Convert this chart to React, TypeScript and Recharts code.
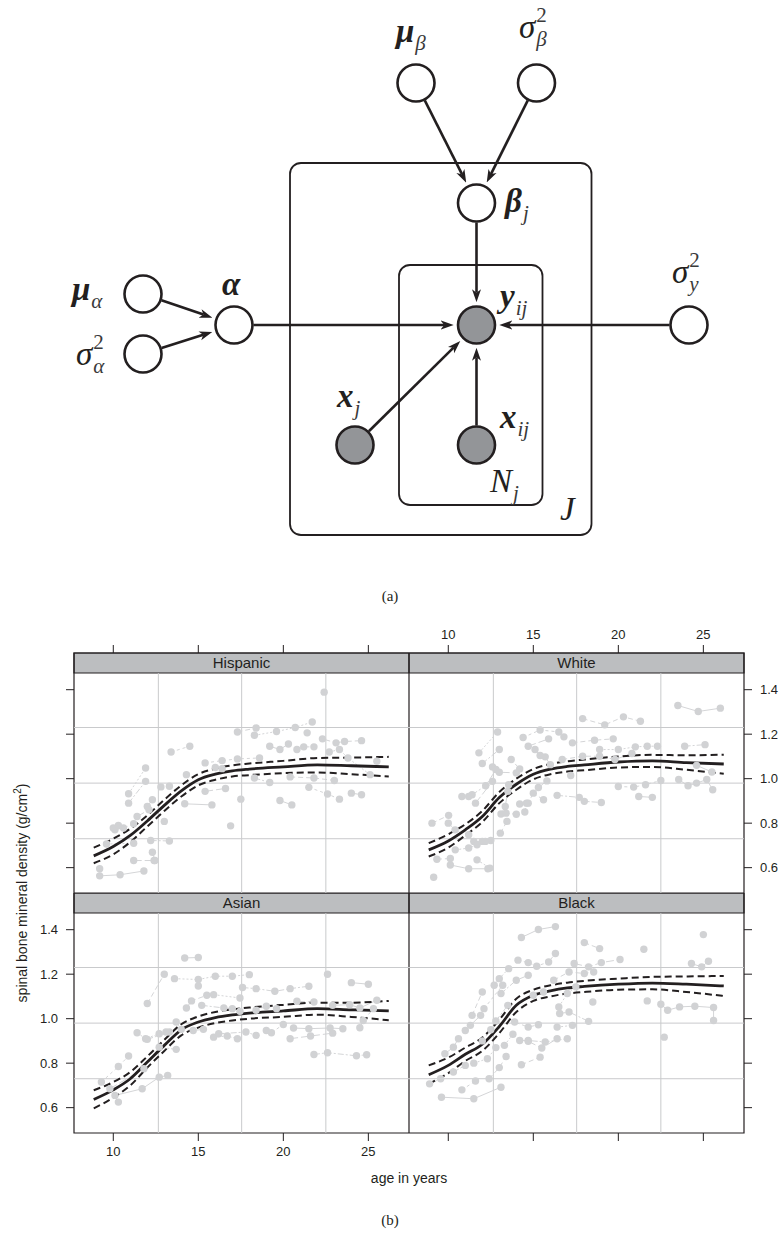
import React from "react";
import { ComposedChart, Line, Scatter, XAxis, YAxis, ReferenceArea, ReferenceLine } from "recharts";

type Pt = [number, number];

const INK = "#231f20";
const SANS = "'Liberation Sans', Arial, Helvetica, sans-serif";
const SERIF = "'Liberation Serif', 'Times New Roman', serif";

// ---------- (a) graphical model ----------
const nodeIds = ["muB", "sigB", "betaJ", "alpha", "muA", "sigA", "yij", "sigY", "xj", "xij"];
const nodeX = [416, 536.5, 476.5, 234, 143, 143, 476.5, 689, 355, 476.5];
const nodeY = [83, 83, 203, 325, 294, 354, 325, 325, 445, 445];
const nodeObserved = [false, false, false, false, false, false, true, false, true, true];

const edgeFrom = ["muB", "sigB", "betaJ", "alpha", "sigY", "xj", "xij", "muA", "sigA"];
const edgeTo = ["betaJ", "betaJ", "yij", "yij", "yij", "yij", "yij", "alpha", "alpha"];

const plateLeft = [290, 399];
const plateRight = [591.5, 542.5];
const plateTop = [163, 265];
const plateBottom = [535, 505];

// symbol, subscript, superscript, bold
const labelMain = ["μ", "σ", "β", "α", "μ", "σ", "σ", "y", "x", "x", "N", "J"];
const labelSub = ["β", "β", "j", "", "α", "α", "y", "ij", "j", "ij", "j", ""];
const labelSup = ["", "2", "", "", "", "2", "2", "", "", "", "", ""];
const labelBold = [true, false, true, true, true, false, false, true, true, true, false, false];
const labelX = [396, 519, 505, 222, 72, 76, 672, 500, 337, 500, 490, 560];
const labelY = [42, 38, 212, 295, 300, 365, 283, 307, 407, 428, 492, 520];

const R = 18.5;
const ARROW_AHEAD = 9.5;

function node(id: string) {
  const i = nodeIds.indexOf(id);
  return { x: nodeX[i], y: nodeY[i] };
}

function edgeData(from: string, to: string) {
  const a = node(from);
  const b = node(to);
  const d = Math.hypot(b.x - a.x, b.y - a.y);
  const ux = (b.x - a.x) / d;
  const uy = (b.y - a.y) / d;
  const s = R + 1;
  const e = R + 1.3 + 3 + ARROW_AHEAD;
  return [
    { x: a.x + ux * s, y: a.y + uy * s },
    { x: b.x - ux * e, y: b.y - uy * e },
  ];
}

function MathLabel(p: any) {
  const l = p.payload;
  return (
    <text x={p.cx} y={p.cy} fontFamily={SERIF} fill={INK} fontStyle="italic">
      <tspan fontSize={33} fontWeight={l.bold ? 700 : 400}>
        {l.main}
      </tspan>
      {l.sup ? (
        <tspan fontSize={21} fontStyle="normal" fill="#3a3a3a" dx={1} dy={-16}>
          {l.sup}
        </tspan>
      ) : null}
      {l.sub ? (
        <tspan fontSize={21} fill="#3a3a3a" dx={l.sup ? -10.5 : 1} dy={l.sup ? 24 : 8}>
          {l.sub}
        </tspan>
      ) : null}
    </text>
  );
}

function Diagram() {
  const nodes = nodeIds.map((id, i) => ({ id, x: nodeX[i], y: nodeY[i], observed: nodeObserved[i] }));
  const labels = labelMain.map((main, i) => ({
    main,
    sub: labelSub[i],
    sup: labelSup[i],
    bold: labelBold[i],
    x: labelX[i],
    y: labelY[i],
  }));
  return (
    <ComposedChart width={780} height={560} margin={{ top: 0, right: 0, bottom: 0, left: 0 }}>
      <XAxis type="number" dataKey="x" domain={[0, 780]} hide allowDataOverflow />
      <YAxis type="number" dataKey="y" domain={[0, 560]} reversed hide allowDataOverflow />
      {plateLeft.map((l, i) => (
        <ReferenceArea
          key={"plate" + i}
          x1={l}
          x2={plateRight[i]}
          y1={plateTop[i]}
          y2={plateBottom[i]}
          shape={(p: any) => (
            <rect
              x={Math.min(p.x, p.x + p.width)}
              y={Math.min(p.y, p.y + p.height)}
              width={Math.abs(p.width)}
              height={Math.abs(p.height)}
              rx={11}
              fill="none"
              stroke={INK}
              strokeWidth={1.8}
            />
          )}
        />
      ))}
      {edgeFrom.map((f, i) => (
        <Line
          key={"edge" + i}
          data={edgeData(f, edgeTo[i])}
          dataKey="y"
          type="linear"
          stroke={INK}
          strokeWidth={2.6}
          markerEnd="url(#arrowhead)"
          dot={false}
          activeDot={false}
          isAnimationActive={false}
        />
      ))}
      <Scatter
        data={nodes}
        dataKey="y"
        isAnimationActive={false}
        shape={(p: any) => (
          <circle
            cx={p.cx}
            cy={p.cy}
            r={R}
            fill={p.payload.observed ? "#939598" : "#ffffff"}
            stroke={INK}
            strokeWidth={2.6}
          />
        )}
      />
      <Scatter data={labels} dataKey="y" isAnimationActive={false} shape={(p: any) => <MathLabel {...p} />} />
    </ComposedChart>
  );
}

// ---------- (b) lattice panels ----------
const ageTicks = [10, 15, 20, 25];
const bmdTicks = [0.6, 0.8, 1.0, 1.2, 1.4];
const ageGrid = [12.65, 17.55, 22.5];
const bmdGrid = [0.73, 0.98, 1.23];
const X_DOMAIN: [number, number] = [7.69, 27.39];
const Y_DOMAIN: [number, number] = [0.486, 1.565];
const STRIP_LOW = 1.475;

const fitAges = [8.85, 10, 11, 12, 13, 14, 15, 16, 17, 18, 20, 22, 24, 26.2];

const hispanicFit = [0.653, 0.695, 0.745, 0.81, 0.88, 0.945, 0.995, 1.02, 1.035, 1.043, 1.053, 1.062, 1.058, 1.053];
const hispanicUpper = [0.69, 0.73, 0.775, 0.835, 0.905, 0.97, 1.02, 1.045, 1.06, 1.068, 1.08, 1.093, 1.095, 1.098];
const hispanicLower = [0.62, 0.66, 0.715, 0.785, 0.855, 0.92, 0.97, 0.995, 1.01, 1.016, 1.025, 1.028, 1.02, 1.01];

const whiteFit = [0.68, 0.72, 0.77, 0.83, 0.915, 0.975, 1.02, 1.043, 1.055, 1.062, 1.075, 1.08, 1.072, 1.066];
const whiteUpper = [0.71, 0.75, 0.795, 0.855, 0.94, 1.0, 1.043, 1.066, 1.078, 1.086, 1.1, 1.107, 1.105, 1.108];
const whiteLower = [0.65, 0.69, 0.745, 0.805, 0.89, 0.95, 0.997, 1.02, 1.032, 1.038, 1.05, 1.053, 1.04, 1.022];

const asianFit = [0.637, 0.68, 0.73, 0.805, 0.88, 0.95, 0.985, 1.005, 1.017, 1.025, 1.035, 1.045, 1.04, 1.035];
const asianUpper = [0.678, 0.715, 0.76, 0.83, 0.905, 0.975, 1.01, 1.03, 1.042, 1.05, 1.062, 1.072, 1.072, 1.08];
const asianLower = [0.597, 0.645, 0.7, 0.78, 0.855, 0.925, 0.96, 0.98, 0.992, 1.0, 1.008, 1.018, 1.008, 0.993];

const blackFit = [0.748, 0.79, 0.84, 0.885, 0.965, 1.06, 1.105, 1.125, 1.138, 1.145, 1.155, 1.16, 1.155, 1.147];
const blackUpper = [0.79, 0.825, 0.87, 0.915, 0.995, 1.09, 1.13, 1.15, 1.162, 1.17, 1.18, 1.188, 1.19, 1.192];
const blackLower = [0.707, 0.755, 0.81, 0.855, 0.935, 1.03, 1.08, 1.1, 1.113, 1.12, 1.13, 1.132, 1.12, 1.102];

const hispanicSubjects: Pt[][] = [
  [[22.4, 1.389]],
  [[17.3, 1.21], [18.4, 1.228]],
  [[18.3, 1.195], [19.6, 1.212], [20.7, 1.23], [21.7, 1.255]],
  [[21.4, 1.206]],
  [[13.4, 1.12], [14.5, 1.146]],
  [[22.3, 1.179], [23.1, 1.161], [23.6, 1.167], [24.6, 1.171]],
  [[19.2, 1.146], [19.8, 1.131], [20.3, 1.156]],
  [[20.8, 1.131], [21.2, 1.143], [21.8, 1.143]],
  [[22.7, 1.12], [23.3, 1.131], [23.8, 1.093], [25.1, 1.018]],
  [[25.5, 1.078]],
  [[15.4, 1.071], [16.4, 1.081], [17.3, 1.089], [18.6, 1.093]],
  [[15.4, 0.943], [16.6, 0.956]],
  [[14.2, 0.887], [15.8, 0.882]],
  [[17.5, 0.908]],
  [[16.9, 0.788]],
  [[18.3, 1.003], [19.2, 0.983]],
  [[21.5, 0.961], [22.6, 0.931], [23.3, 0.908]],
  [[24.0, 0.935], [24.6, 0.928]],
  [[19.8, 0.902], [20.5, 0.882]],
  [[20.4, 1.008], [21.8, 1.003], [23.0, 0.992]],
  [[10.9, 0.932], [11.9, 1.048]],
  [[10.9, 0.89], [11.9, 0.988]],
  [[12.8, 0.963], [13.3, 0.966]],
  [[12.0, 0.875], [12.3, 0.905]],
  [[13.0, 0.808]],
  [[10.1, 0.77], [10.6, 0.778], [11.2, 0.797]],
  [[9.6, 0.706], [11.2, 0.71]],
  [[12.2, 0.722], [13.3, 0.72]],
  [[10.0, 0.778], [10.3, 0.79]],
  [[11.2, 0.632], [12.4, 0.632]],
  [[9.2, 0.563], [10.4, 0.568], [11.8, 0.585]],
  [[12.3, 0.669], [12.45, 0.632]],
  [[14.3, 1.018]],
  [[16.0, 1.05], [16.4, 1.045]],
  [[9.2, 0.595]],
  [[11.4, 0.83], [12.1, 0.86]],
];

const whiteSubjects: Pt[][] = [
  [[23.5, 1.329], [24.7, 1.302], [26.0, 1.317]],
  [[17.9, 1.27], [19.2, 1.242], [20.3, 1.278], [21.3, 1.258]],
  [[11.8, 1.116], [12.9, 1.21]],
  [[12.0, 1.068], [13.0, 1.131]],
  [[14.4, 1.185], [15.4, 1.219], [16.5, 1.21], [16.8, 1.188]],
  [[14.7, 1.146], [15.9, 1.179]],
  [[15.1, 1.131], [15.4, 1.104]],
  [[17.3, 1.161], [18.6, 1.173], [19.7, 1.179]],
  [[18.9, 1.131], [20.0, 1.131], [21.0, 1.143], [21.7, 1.146], [22.3, 1.146]],
  [[23.9, 1.146], [25.1, 1.153]],
  [[13.7, 1.086], [14.2, 1.044]],
  [[12.6, 1.053], [13.0, 1.029], [14.0, 1.026]],
  [[15.7, 1.098], [16.0, 1.063]],
  [[16.7, 1.086], [17.9, 1.101], [18.9, 1.101], [19.8, 1.086], [20.8, 1.113]],
  [[17.2, 1.014]],
  [[11.4, 0.928], [12.2, 0.968], [12.8, 1.041]],
  [[10.8, 0.92], [11.2, 0.92]],
  [[11.6, 0.89], [12.6, 0.988]],
  [[13.1, 0.841], [13.35, 0.875], [13.5, 0.943], [13.55, 0.973]],
  [[13.06, 0.755], [13.45, 0.808]],
  [[14.2, 0.886], [14.6, 0.89], [14.5, 0.85]],
  [[16.4, 0.925], [17.7, 0.916], [18.0, 0.898], [19.0, 0.893]],
  [[20.0, 0.965], [20.9, 0.962], [21.6, 0.973], [22.5, 0.992]],
  [[23.55, 0.996], [24.1, 0.968], [24.6, 0.98], [25.2, 0.996], [25.55, 0.95]],
  [[21.2, 0.92], [22.0, 0.916]],
  [[9.04, 0.8], [10.02, 0.835]],
  [[10.0, 0.8], [10.4, 0.77], [11.2, 0.748]],
  [[11.5, 0.718], [12.0, 0.718], [12.5, 0.722]],
  [[14.7, 0.89], [15.0, 0.935], [15.6, 0.905]],
  [[9.14, 0.557]],
  [[10.12, 0.612], [11.2, 0.595], [12.33, 0.595]],
  [[9.33, 0.638], [10.12, 0.641]],
  [[10.41, 0.68], [11.2, 0.688], [11.69, 0.703], [12.18, 0.718]],
  [[11.69, 0.635], [12.45, 0.598]],
  [[13.4, 0.845], [14.0, 0.84]],
  [[15.3, 0.96], [15.8, 0.99]],
  [[24.6, 1.06], [25.5, 1.03]],
];

const asianSubjects: Pt[][] = [
  [[14.2, 1.273], [15.0, 1.275]],
  [[12.0, 1.068], [13.0, 1.2]],
  [[13.6, 1.18], [15.0, 1.176], [16.0, 1.191], [17.0, 1.191], [18.0, 1.198]],
  [[17.6, 1.14], [18.4, 1.135], [19.5, 1.123], [20.4, 1.135], [21.5, 1.146]],
  [[15.0, 1.147]],
  [[22.6, 1.2]],
  [[24.0, 1.162], [25.0, 1.155]],
  [[14.3, 1.048], [14.6, 1.08], [15.5, 1.105]],
  [[15.9, 1.108], [17.45, 1.093]],
  [[15.2, 1.06], [16.5, 1.048], [17.0, 1.045], [17.45, 1.033]],
  [[18.4, 1.038], [19.0, 1.056], [19.6, 1.045]],
  [[20.8, 1.078], [21.8, 1.075]],
  [[22.9, 1.06], [23.9, 1.063], [24.5, 1.048], [25.5, 1.083]],
  [[13.7, 0.985], [14.0, 0.952], [14.7, 0.947], [15.3, 0.952]],
  [[15.9, 0.917], [16.7, 0.922], [17.3, 0.91]],
  [[16.2, 0.932], [17.8, 0.94], [18.4, 0.925]],
  [[19.0, 0.947], [19.3, 0.937], [20.0, 0.974]],
  [[20.4, 0.91], [21.6, 0.922], [22.9, 0.935]],
  [[20.6, 0.958], [21.5, 0.955], [22.75, 0.958], [23.5, 0.955]],
  [[24.5, 0.959], [24.7, 0.992], [25.3, 1.045]],
  [[11.4, 0.937], [11.9, 0.91], [12.7, 0.932], [13.1, 0.94]],
  [[21.8, 0.839], [22.6, 0.847], [24.3, 0.833], [24.9, 0.838]],
  [[9.3, 0.715], [10.3, 0.785], [10.9, 0.832]],
  [[9.8, 0.685], [11.8, 0.775]],
  [[10.1, 0.655], [11.7, 0.685], [12.7, 0.737], [13.2, 0.745]],
  [[10.3, 0.625]],
  [[12.7, 0.872], [13.7, 0.862]],
  [[12.0, 0.907], [13.3, 0.94]],
];

const blackSubjects: Pt[][] = [
  [[14.3, 1.365], [15.3, 1.401], [16.3, 1.414]],
  [[18.0, 1.342], [18.9, 1.315]],
  [[21.5, 1.312]],
  [[25.0, 1.378]],
  [[14.1, 1.263], [14.7, 1.252], [15.2, 1.236], [15.9, 1.255], [16.3, 1.293]],
  [[17.4, 1.248], [18.25, 1.233], [19.0, 1.252], [20.1, 1.266]],
  [[24.3, 1.248], [24.9, 1.233], [25.3, 1.258]],
  [[11.4, 1.015], [12.0, 1.12]],
  [[12.7, 1.15], [13.0, 1.18], [13.55, 1.225]],
  [[13.1, 1.113], [14.0, 1.173], [14.7, 1.195]],
  [[12.1, 1.045], [13.2, 1.15]],
  [[9.8, 0.842], [10.3, 0.872], [10.6, 0.91]],
  [[11.0, 0.947], [11.3, 0.97], [11.9, 1.015]],
  [[16.2, 1.173], [17.1, 1.21], [18.0, 1.203], [18.55, 1.21]],
  [[16.5, 1.053], [17.0, 1.113], [17.5, 1.143]],
  [[16.55, 1.023], [17.1, 1.03], [18.25, 0.988]],
  [[18.5, 1.075]],
  [[21.7, 1.08]],
  [[22.5, 1.065], [22.9, 1.038], [23.6, 1.053], [24.5, 1.056], [25.6, 1.05], [25.6, 0.992]],
  [[13.9, 0.985], [14.7, 0.962], [15.3, 0.973]],
  [[16.4, 0.962], [17.3, 0.97]],
  [[14.2, 0.902], [14.7, 0.902], [15.7, 0.895], [17.0, 0.91]],
  [[22.7, 0.917]],
  [[8.9, 0.707], [9.55, 0.73]],
  [[9.6, 0.647], [11.5, 0.64], [13.1, 0.692]],
  [[14.3, 0.793], [15.4, 0.827]],
  [[11.5, 0.8], [12.3, 0.82], [12.8, 0.87]],
  [[10.3, 0.76], [11.0, 0.79]],
  [[12.0, 0.9], [12.5, 0.95]],
  [[14.7, 0.898], [15.5, 0.868], [16.4, 0.91]],
  [[15.0, 1.105], [15.6, 1.12]],
  [[12.4, 0.73], [13.0, 0.78], [13.4, 0.83]],
  [[13.3, 0.88], [13.8, 0.93]],
  [[12.8, 0.99], [13.5, 1.06]],
  [[10.8, 0.68], [11.6, 0.72]],
];

const subjectDashes = ["", "5 3", "2 2", "6 2 2 2", "3 3", "8 3"];

type PanelSpec = {
  name: string;
  subjects: Pt[][];
  fit: number[];
  upper: number[];
  lower: number[];
  xSide: "top" | "bottom";
  ySide: "left" | "right";
  xLabels: boolean;
  yLabels: boolean;
  left: number;
  top: number;
};

const panels: PanelSpec[] = [
  { name: "Hispanic", subjects: hispanicSubjects, fit: hispanicFit, upper: hispanicUpper, lower: hispanicLower, xSide: "top", ySide: "left", xLabels: false, yLabels: false, left: 24, top: 613 },
  { name: "White", subjects: whiteSubjects, fit: whiteFit, upper: whiteUpper, lower: whiteLower, xSide: "top", ySide: "right", xLabels: true, yLabels: true, left: 409, top: 613 },
  { name: "Asian", subjects: asianSubjects, fit: asianFit, upper: asianUpper, lower: asianLower, xSide: "bottom", ySide: "left", xLabels: true, yLabels: true, left: 24, top: 893 },
  { name: "Black", subjects: blackSubjects, fit: blackFit, upper: blackUpper, lower: blackLower, xSide: "bottom", ySide: "right", xLabels: false, yLabels: false, left: 409, top: 893 },
];

const tickStyle = { fontSize: 13, fill: INK, fontFamily: SANS };

function Panel({ p }: { p: PanelSpec }) {
  const fitData = fitAges.map((x, i) => ({ x, fit: p.fit[i], upper: p.upper[i], lower: p.lower[i] }));
  return (
    <div style={{ position: "absolute", left: p.left, top: p.top }}>
      <ComposedChart width={385} height={280} margin={{ top: 0, right: 0, bottom: 0, left: 0 }}>
        <XAxis
          type="number"
          dataKey="x"
          domain={X_DOMAIN}
          allowDataOverflow
          ticks={ageTicks}
          interval={0}
          orientation={p.xSide}
          height={40}
          axisLine={false}
          tickSize={8}
          tickMargin={6}
          tickLine={{ stroke: INK }}
          tick={tickStyle}
          tickFormatter={(v: number) => (p.xLabels ? String(v) : "")}
        />
        <YAxis
          type="number"
          dataKey="y"
          domain={Y_DOMAIN}
          allowDataOverflow
          ticks={bmdTicks}
          interval={0}
          orientation={p.ySide}
          width={50}
          axisLine={false}
          tickSize={8}
          tickMargin={8}
          tickLine={{ stroke: INK }}
          tick={tickStyle}
          tickFormatter={(v: number) => (p.yLabels ? v.toFixed(1) : "")}
        />
        {bmdGrid.map((v) => (
          <ReferenceLine key={"h" + v} y={v} stroke="#c9cacc" strokeWidth={1} />
        ))}
        {ageGrid.map((a) => (
          <ReferenceLine
            key={"v" + a}
            segment={[
              { x: a, y: Y_DOMAIN[0] },
              { x: a, y: STRIP_LOW },
            ]}
            stroke="#c9cacc"
            strokeWidth={1}
          />
        ))}
        {p.subjects.map((s, i) => (
          <Line
            key={"s" + i}
            data={s.map(([x, y]) => ({ x, y }))}
            dataKey="y"
            type="linear"
            stroke="#cfd0d2"
            strokeWidth={0.9}
            strokeDasharray={subjectDashes[i % subjectDashes.length]}
            dot={{ r: 3.7, fill: "#d1d2d4", stroke: "none" }}
            activeDot={false}
            isAnimationActive={false}
          />
        ))}
        <Line data={fitData} dataKey="upper" type="monotone" stroke={INK} strokeWidth={2} strokeDasharray="7 4" dot={false} activeDot={false} isAnimationActive={false} />
        <Line data={fitData} dataKey="lower" type="monotone" stroke={INK} strokeWidth={2} strokeDasharray="7 4" dot={false} activeDot={false} isAnimationActive={false} />
        <Line data={fitData} dataKey="fit" type="monotone" stroke={INK} strokeWidth={2.8} dot={false} activeDot={false} isAnimationActive={false} />
        <ReferenceArea
          x1={X_DOMAIN[0]}
          x2={X_DOMAIN[1]}
          y1={STRIP_LOW}
          y2={Y_DOMAIN[1]}
          fill="#bcbec0"
          fillOpacity={1}
          stroke={INK}
          strokeWidth={1.2}
          label={{ value: p.name, position: "center", fill: INK, fontSize: 15, fontFamily: SANS }}
        />
        <ReferenceArea
          x1={X_DOMAIN[0]}
          x2={X_DOMAIN[1]}
          y1={Y_DOMAIN[0]}
          y2={Y_DOMAIN[1]}
          fill="none"
          stroke={INK}
          strokeWidth={1.2}
        />
      </ComposedChart>
    </div>
  );
}

export default function App() {
  return (
    <div style={{ position: "absolute", left: 0, top: 0, width: 780, height: 1238, background: "#fff", overflow: "hidden" }}>
      <svg width={0} height={0} style={{ position: "absolute" }}>
        <defs>
          <marker id="arrowhead" viewBox="0 0 13 10" refX={3.5} refY={5} markerWidth={13} markerHeight={10} markerUnits="userSpaceOnUse" orient="auto">
            <path d="M0,0.5 L13,5 L0,9.5 L3.5,5 Z" fill={INK} />
          </marker>
        </defs>
      </svg>
      <div style={{ position: "absolute", left: 0, top: 0 }}>
        <Diagram />
      </div>
      <div style={{ position: "absolute", left: 0, top: 588, width: 780, textAlign: "center", fontFamily: SERIF, fontSize: 15, color: INK }}>
        (a)
      </div>
      {panels.map((p) => (
        <Panel key={p.name} p={p} />
      ))}
      <svg width={40} height={500} style={{ position: "absolute", left: 0, top: 643 }}>
        <text transform="translate(27,250) rotate(-90)" textAnchor="middle" fontFamily={SANS} fontSize={14} fill={INK}>
          spinal bone mineral density (g/cm
          <tspan dy={-6} fontSize={10}>2</tspan>
          <tspan dy={6}>)</tspan>
        </text>
      </svg>
      <div style={{ position: "absolute", left: 74, top: 1170, width: 670, textAlign: "center", fontFamily: SANS, fontSize: 14, color: INK }}>
        age in years
      </div>
      <div style={{ position: "absolute", left: 0, top: 1212, width: 780, textAlign: "center", fontFamily: SERIF, fontSize: 15, color: INK }}>
        (b)
      </div>
    </div>
  );
}
